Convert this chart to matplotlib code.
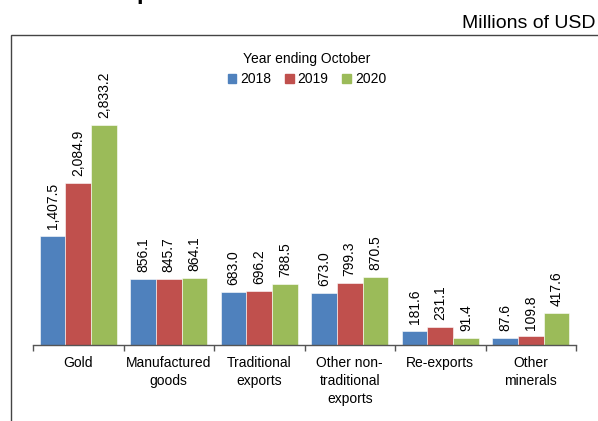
import numpy as np
import matplotlib
matplotlib.use("Agg")
import matplotlib.pyplot as plt
from matplotlib.patches import Rectangle

plt.rcParams['font.family'] = ['Liberation Sans', 'DejaVu Sans']

categories = ["Gold", "Manufactured\ngoods", "Traditional\nexports",
              "Other non-\ntraditional\nexports", "Re-exports", "Other\nminerals"]
years = ["2018", "2019", "2020"]
v2018 = [1407.5, 856.1, 683.0, 673.0, 181.6, 87.6]
v2019 = [2084.9, 845.7, 696.2, 799.3, 231.1, 109.8]
v2020 = [2833.2, 864.1, 788.5, 870.5, 91.4, 417.6]
colors = ["#4F81BD", "#C0504D", "#9BBB59"]

W, H = 598, 421
fig = plt.figure(figsize=(W / 100, H / 100), dpi=100)
ax = fig.add_axes([33 / W, (H - 345) / H, (576 - 33) / W, 300 / H])

x = np.arange(len(categories))
w = 0.284
for i, (vals, c, lab) in enumerate(zip([v2018, v2019, v2020], colors, years)):
    pos = x + (i - 1) * w
    ax.bar(pos, vals, width=w, color=c, edgecolor='white', linewidth=0.4, label=lab)
    for px, v in zip(pos, vals):
        ax.annotate(f"{v:,.1f}", (px, v), xytext=(0, 5), textcoords='offset points',
                    rotation=90, ha='center', va='bottom', fontsize=10)

ax.set_xlim(-0.5, len(categories) - 0.5)
ax.set_ylim(0, 300 / 0.07765)
for s in ['top', 'right', 'left']:
    ax.spines[s].set_visible(False)
ax.spines['bottom'].set_color('#555555')
ax.spines['bottom'].set_linewidth(1)
ax.set_yticks([])
ax.set_xticks(np.arange(len(categories) + 1) - 0.5)
ax.set_xticklabels([])
ax.tick_params(axis='x', which='major', length=4, width=1, color='#555555', direction='out')
ax.set_xticks(x, minor=True)
ax.set_xticklabels(categories, minor=True, fontsize=10, linespacing=1.38)
ax.tick_params(axis='x', which='minor', length=0, pad=8)

handles = [Rectangle((0, 0), 1, 1, color=c) for c in colors]
leg = ax.legend(handles, years, title='Year ending October', ncol=3,
                loc='upper center', bbox_to_anchor=(307 / W, (H - 39) / H),
                bbox_transform=fig.transFigure, frameon=False,
                handlelength=0.6, handleheight=0.6, handletextpad=0.3,
                columnspacing=1.0, fontsize=10, title_fontsize=10)

fig.add_artist(Rectangle((11 / W, -0.1), 1.2, (H - 35) / H + 0.1, transform=fig.transFigure,
                         fill=False, edgecolor='#444444', linewidth=1))
fig.text(596 / W, (H - 28) / H, "Millions of USD", ha='right', va='baseline', fontsize=14)
fig.text(12 / W, (H + 1) / H, "Chart 4: Exports of Goods", ha='left', va='baseline',
         fontsize=17, fontweight='bold')

fig.savefig("out.png", dpi=100)
